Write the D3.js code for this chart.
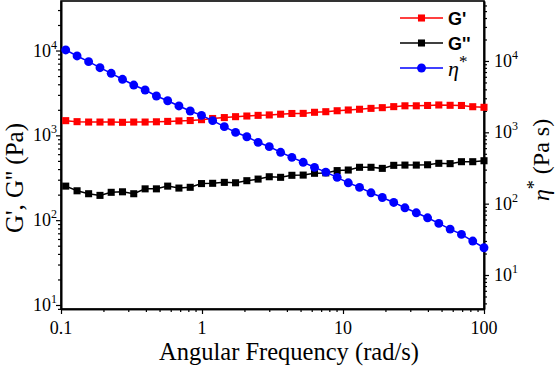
<!doctype html>
<html>
<head>
<script src="https://d3js.org/d3.v7.min.js"></script>
<style>
  body { margin: 0; background: #fff; }
  text { font-family: "Liberation Serif", "Times New Roman", serif; }
</style>
</head>
<body>
<script>
// angular frequency (rad/s)
var freq = [0.108, 0.130, 0.157, 0.189, 0.227, 0.273, 0.328, 0.395, 0.475, 0.571,
            0.686, 0.825, 0.992, 1.19, 1.44, 1.73, 2.08, 2.50, 3.00, 3.61,
            4.34, 5.22, 6.28, 7.55, 9.09, 10.9, 13.1, 15.8, 19.0, 22.9,
            27.5, 33.1, 39.8, 47.8, 57.5, 69.2, 83.2, 100];
// storage modulus G' (Pa)
var gPrime = [1490, 1450, 1435, 1435, 1435, 1425, 1435, 1435, 1445, 1460,
              1480, 1495, 1530, 1580, 1620, 1660, 1690, 1720, 1740, 1775,
              1810, 1815, 1870, 1900, 1950, 1990, 2030, 2080, 2120, 2180,
              2230, 2230, 2250, 2280, 2260, 2250, 2175, 2140];
// loss modulus G'' (Pa)
var gDouble = [252, 222, 205, 196, 213, 216, 205, 234, 234, 252,
               239, 244, 270, 272, 279, 276, 292, 305, 325, 320,
               338, 340, 357, 361, 384, 390, 420, 420, 408, 443,
               446, 446, 450, 468, 464, 489, 489, 502];
// complex viscosity eta* (Pa s)
var etaStar = [14270, 11750, 9780, 8050, 6720, 5540, 4600, 3920, 3230, 2770,
               2340, 1990, 1730, 1456, 1200, 1000, 867, 724, 629, 525,
               446, 380, 323, 277, 234, 196, 169, 142, 122, 104,
               87.5, 74.5, 63.4, 52.9, 44.0, 37.1, 29.9, 24.1];

var xTickValues = [0.1, 1, 10, 100];
var xTickLabels = ["0.1", "1", "10", "100"];
var leftExponents = [1, 2, 3, 4];
var rightExponents = [1, 2, 3, 4];

var width = 555, height = 366;
var plotL = 61, plotR = 484, plotT = 1, plotB = 309;

var svg = d3.select("body").append("svg")
    .attr("width", width)
    .attr("height", height);

var x = d3.scaleLog().domain([0.1, 100]).range([plotL, plotR]);
var yL = d3.scaleLog().domain([8.97, 38350]).range([plotB, plotT]);
var yR = d3.scaleLog().domain([3.337, 69300]).range([plotB, plotT]);

function isMajor(v) {
    var l = Math.log10(v);
    return Math.abs(l - Math.round(l)) < 1e-6;
}

// frame
svg.append("rect")
    .attr("x", plotL).attr("y", plotT)
    .attr("width", plotR - plotL).attr("height", plotB - plotT)
    .attr("fill", "none").attr("stroke", "#000").attr("stroke-width", 1.6);

function drawAxis(axisFn, scale, translate) {
    var minor = scale.ticks().filter(function (v) { return !isMajor(v); });
    var major = scale.ticks().filter(isMajor);
    var g = svg.append("g").attr("transform", translate);
    g.append("g").call(axisFn(scale).tickValues(minor).tickSize(3).tickSizeOuter(0).tickFormat(""));
    g.append("g").call(axisFn(scale).tickValues(major).tickSize(5).tickSizeOuter(0).tickFormat(""));
    g.selectAll("path.domain").attr("stroke-width", 1.6);
    g.selectAll(".tick line").attr("stroke-width", 1.2);
}

drawAxis(d3.axisBottom, x, "translate(0," + plotB + ")");
drawAxis(d3.axisLeft, yL, "translate(" + plotL + ",0)");
drawAxis(d3.axisRight, yR, "translate(" + plotR + ",0)");

// x tick labels
svg.append("g").selectAll("text")
    .data(xTickValues)
    .enter().append("text")
    .attr("x", function (d) { return x(d); })
    .attr("y", 334)
    .attr("text-anchor", "middle")
    .attr("font-size", 18)
    .text(function (d, i) { return xTickLabels[i]; });

// power-of-ten labels
function powerLabels(exps, scale, xpos, anchor) {
    var t = svg.append("g").selectAll("text")
        .data(exps)
        .enter().append("text")
        .attr("x", xpos)
        .attr("y", function (d) { return scale(Math.pow(10, d)) + 6; })
        .attr("text-anchor", anchor)
        .attr("font-size", 18);
    t.append("tspan").text("10");
    t.append("tspan").attr("dy", -8).attr("font-size", 12)
        .text(function (d) { return d; });
}
powerLabels(leftExponents, yL, 57, "end");
powerLabels(rightExponents, yR, 494, "start");

// axis titles
svg.append("text")
    .attr("x", 289).attr("y", 360)
    .attr("text-anchor", "middle")
    .attr("font-size", 24.5)
    .text("Angular Frequency (rad/s)");

svg.append("text")
    .attr("transform", "translate(23,178) rotate(-90)")
    .attr("text-anchor", "middle")
    .attr("font-size", 25)
    .text("G', G'' (Pa)");

var rt = svg.append("text")
    .attr("transform", "translate(549,160) rotate(-90)")
    .attr("text-anchor", "middle")
    .attr("font-size", 24);
rt.append("tspan").attr("font-style", "italic").text("\u03b7");
rt.append("tspan").attr("dy", -9).attr("font-size", 18).text("*");
rt.append("tspan").attr("dy", 9).text(" (Pa s)");

// series
var series = [
    {name: "G'", values: gPrime, scale: yL, color: "#ff0000", shape: "square"},
    {name: "G''", values: gDouble, scale: yL, color: "#000000", shape: "square"},
    {name: "eta", values: etaStar, scale: yR, color: "#0000ff", shape: "circle"}
];

function symbolFor(s) {
    return d3.symbol()
        .type(s.shape === "square" ? d3.symbolSquare : d3.symbolCircle)
        .size(s.shape === "square" ? 50 : 62);
}

series.forEach(function (s) {
    var line = d3.line()
        .x(function (d, i) { return x(freq[i]); })
        .y(function (d) { return s.scale(d); });
    svg.append("path")
        .datum(s.values)
        .attr("d", line)
        .attr("fill", "none")
        .attr("stroke", s.color)
        .attr("stroke-width", 1.5);
    svg.append("g").selectAll("path")
        .data(s.values)
        .enter().append("path")
        .attr("d", symbolFor(s))
        .attr("transform", function (d, i) {
            return "translate(" + x(freq[i]) + "," + s.scale(d) + ")";
        })
        .attr("fill", s.color);
});

// legend
var legendY = [18, 43, 68];
series.forEach(function (s, i) {
    var g = svg.append("g").attr("transform", "translate(0," + legendY[i] + ")");
    g.append("line")
        .attr("x1", 400).attr("x2", 443)
        .attr("stroke", s.color).attr("stroke-width", 1.5);
    g.append("path")
        .attr("d", symbolFor(s))
        .attr("transform", "translate(421.5,0)")
        .attr("fill", s.color);
    if (s.shape === "square") {
        g.append("text")
            .attr("x", 448).attr("y", 6.5)
            .attr("font-size", 18)
            .attr("font-weight", "bold")
            .style("font-family", "'Liberation Sans', Arial, sans-serif")
            .text(s.name);
    } else {
        var t = g.append("text")
            .attr("x", 448).attr("y", 8)
            .attr("font-size", 22);
        t.append("tspan").attr("font-style", "italic").text("\u03b7");
        t.append("tspan").attr("dy", -9).attr("font-size", 17).text("*");
    }
});
</script>
</body>
</html>
